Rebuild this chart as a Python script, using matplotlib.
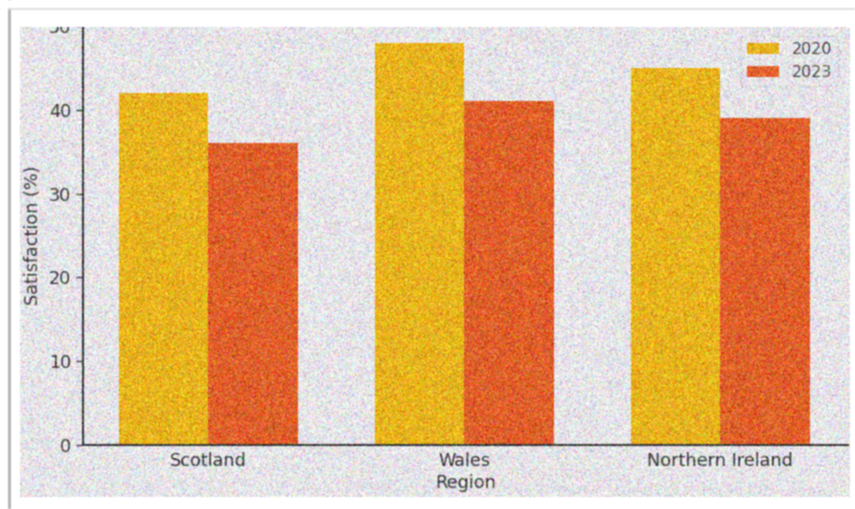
import numpy as np
import matplotlib
matplotlib.use('Agg')
import matplotlib.pyplot as plt
from matplotlib.patches import Rectangle
from matplotlib.lines import Line2D

regions = ['Scotland', 'Wales', 'Northern Ireland']
years = ['2020', '2023']
sat_2020 = [42, 48, 45]
sat_2023 = [36, 41, 39]
colors = ['#ecb41c', '#e2602a']

W, H, DPI = 855, 509, 100
bg = '#eae8ed'
ink = '#333333'
fs = 12.7

fig = plt.figure(figsize=(W / DPI, H / DPI), dpi=DPI, facecolor='white')

# grey panel holding the chart
px0, px1, py0, py1 = 20, 850, 27, 497
fig.add_artist(Rectangle((px0 / W, 1 - py1 / H), (px1 - px0) / W, (py1 - py0) / H,
                         transform=fig.transFigure, facecolor=bg, edgecolor='none', zorder=-5))

ax = fig.add_axes([83 / W, 1 - 445 / H, (848 - 83) / W, (445 - 26) / H])
ax.set_facecolor(bg)

x = np.arange(len(regions))
w = 0.35
ax.bar(x - w / 2, sat_2020, w, color=colors[0], label=years[0])
ax.bar(x + w / 2, sat_2023, w, color=colors[1], label=years[1])

ax.set_xlim(-0.49, 2.5)
ax.set_ylim(0, 50)
ax.set_xticks(x)
ax.set_xticklabels(regions)
ax.set_yticks([0, 10, 20, 30, 40, 50])
ax.tick_params(axis='x', length=0, pad=5, labelsize=fs, colors=ink)
ax.tick_params(axis='y', length=5, width=1, labelsize=fs, colors=ink)
ax.set_xlabel('Region', fontsize=fs, color=ink, labelpad=3)
ax.set_ylabel('Satisfaction (%)', fontsize=fs, color=ink, labelpad=5)
for s in ['top', 'right']:
    ax.spines[s].set_visible(False)
for s in ['left', 'bottom']:
    ax.spines[s].set_color('#3a3a3a')
    ax.spines[s].set_linewidth(1.5)

leg = ax.legend(loc='upper right', fontsize=11.5, frameon=True, borderaxespad=0.6)
leg.get_frame().set_facecolor(bg)
leg.get_frame().set_edgecolor('#d6d4d8')
for t in leg.get_texts():
    t.set_color('#444444')

# white strip along the top and the border lines of the frame
fig.add_artist(Rectangle((0, 1 - py0 / H), 1, py0 / H, transform=fig.transFigure,
                         facecolor='white', edgecolor='none', zorder=20))
fig.add_artist(Line2D([9 / W, 9 / W], [0, 1 - 9 / H], transform=fig.transFigure,
                      color='#b0b0b0', lw=2.0, zorder=21))
fig.add_artist(Line2D([9 / W, 1], [1 - 9 / H, 1 - 9 / H], transform=fig.transFigure,
                      color='#dcdcdc', lw=1.2, zorder=21))

fig.canvas.draw()
img = np.asarray(fig.canvas.buffer_rgba())[:, :, :3].astype(float) / 255.0

# grain over the chart panel
rng = np.random.default_rng(7)
noise = rng.normal(0, 0.11, img[py0:py1, px0:px1].shape)
noise += rng.normal(0, 0.05, img[py0:py1, px0:px1, :1].shape)
img[py0:py1, px0:px1] += noise
img = np.clip(img, 0, 1)


def soften(a):
    k = [1, 2, 1]
    out = np.zeros_like(a)
    for i, wy in zip((-1, 0, 1), k):
        for j, wx in zip((-1, 0, 1), k):
            out += wy * wx * np.roll(np.roll(a, i, axis=0), j, axis=1)
    return out / 16.0


img = soften(img)
plt.imsave('out.png', np.clip(img, 0, 1))
